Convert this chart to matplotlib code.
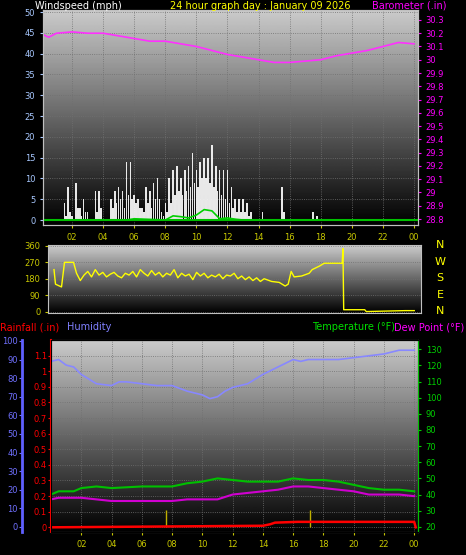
import numpy as np
import matplotlib
matplotlib.use("Agg")
import matplotlib.pyplot as plt

W, H = 466, 555

# ---- data ----
gust_t = np.arange(0, 24, 0.25)
gust = [0, 0, 0, 0, 0, 0, 4, 8, 1, 9, 3, 5, 2, 0, 7, 7,
        0, 0, 5, 7, 8, 7, 14, 14, 6, 5, 3, 8, 7, 9, 10, 2,
        4, 10, 12, 13, 10, 12, 13, 16, 12, 14, 15, 15, 18, 13, 12, 12,
        12, 8, 5, 5, 5, 4, 2, 0, 0, 2, 0, 0, 0, 0, 8, 0,
        0, 0, 0, 0, 0, 0, 2, 1, 0, 0, 0, 0, 0, 0, 0, 0,
        0, 0, 0, 0, 0, 0, 0, 0, 0, 0, 0, 0, 0, 0, 0, 0]
low_gust = [0, 0, 0, 0, 0, 0, 1, 2, 0, 3, 1, 2, 0, 0, 2, 3,
            0, 0, 3, 4, 5, 3, 6, 5, 4, 3, 2, 4, 3, 5, 5, 1,
            2, 4, 6, 7, 6, 7, 8, 9, 8, 10, 10, 9, 8, 7, 6, 5,
            4, 3, 2, 2, 2, 1, 0, 0, 0, 0, 0, 0, 0, 0, 2, 0,
            0, 0, 0, 0, 0, 0, 0, 0, 0, 0, 0, 0, 0, 0, 0, 0,
            0, 0, 0, 0, 0, 0, 0, 0, 0, 0, 0, 0, 0, 0, 0, 0]
avg_t = [0, 5.5, 6, 8, 8.5, 9, 9.5, 10, 10.5, 11, 11.5, 12, 12.5, 13, 24]
avg = [0, 0, 0.3, 0, 1, 0.8, 0.5, 1.2, 2.5, 2.2, 0.3, 0.5, 0.2, 0, 0]

baro_t = [0, 0.3, 0.5, 1, 2, 3, 4, 5, 6, 7, 8, 9, 10, 11, 12, 13, 14, 15,
          16, 17, 18, 19, 20, 21, 22, 23, 24]
baro = [30.20, 30.18, 30.17, 30.20, 30.21, 30.20, 30.20, 30.18, 30.16,
        30.14, 30.14, 30.12, 30.10, 30.07, 30.04, 30.02, 30.00, 29.98,
        29.98, 29.99, 30.00, 30.03, 30.05, 30.07, 30.10, 30.13, 30.12]

dir_t = [0, 0.1, 0.5, 0.7, 1.3, 1.5, 1.75, 2, 2.25, 2.5, 2.75, 3, 3.25,
         3.5, 3.75, 4, 4.25, 4.5, 4.75, 5, 5.25, 5.5, 5.75, 6, 6.25, 6.5,
         6.75, 7, 7.25, 7.5, 7.75, 8, 8.25, 8.5, 8.75, 9, 9.25, 9.5, 9.75,
         10, 10.25, 10.5, 10.75, 11, 11.25, 11.5, 11.75, 12, 12.25, 12.5,
         12.75, 13, 13.25, 13.5, 13.75, 14, 14.5, 15, 15.4, 15.6, 15.8, 16,
         16.5, 17, 17.2, 17.7, 18, 19.2, 19.25, 19.3, 20.7, 20.8, 23.4, 24]
wdir = [230, 150, 135, 270, 270, 210, 170, 200, 220, 190, 230, 200, 215,
        190, 205, 215, 195, 185, 210, 200, 220, 190, 230, 210, 195, 225,
        200, 215, 190, 210, 200, 230, 185, 210, 195, 205, 175, 215, 195,
        210, 185, 200, 190, 205, 180, 200, 195, 210, 180, 195, 175, 190,
        170, 185, 165, 180, 165, 160, 140, 150, 220, 190, 195, 210, 230,
        250, 265, 265, 345, 10, 10, 0, 5, 5]

hum_t = [0, 0.5, 1, 1.5, 2, 3, 4, 4.5, 5, 6, 7, 8, 9, 10, 10.5, 11, 11.5,
         12, 13, 14, 15, 16, 16.5, 17, 18, 19, 20, 21, 22, 23, 24]
hum = [89, 90, 87, 86, 82, 77, 76, 78, 78, 77, 76, 76, 73, 71, 69, 70, 73,
       75, 77, 82, 86, 90, 89, 90, 90, 90, 91, 92, 93, 95, 95]
temp_t = [0, 0.5, 1.5, 2, 3, 4, 6, 8, 9, 10, 11, 12, 13, 14, 15, 16, 17,
          18, 19, 20, 21, 22, 23, 24]
temp = [40, 42, 42, 44, 45, 44, 45, 45, 47, 48, 50, 49, 48, 48, 48, 50, 49,
        49, 48, 46, 44, 43, 43, 42]
dew = [37, 38, 38, 38, 37, 36, 36, 36, 37, 37, 37, 40, 41, 42, 43, 45, 45,
       44, 43, 42, 40, 40, 40, 39]
rain_t = [0, 14.0, 14.5, 14.8, 16.3, 24.0, 24.1]
rain = [0, 0.01, 0.02, 0.03, 0.035, 0.035, 0]
strike_t = [7.6, 17.1]
strike_h = [0.11, 0.11]

hour_ticks = list(range(2, 25, 2))
hour_labels = ["%02d" % (h % 24) for h in hour_ticks]

fig = plt.figure(figsize=(W / 100, H / 100), dpi=100, facecolor="black")


def ax_px(l, t, r, b):
    return fig.add_axes([l / W, 1 - b / H, (r - l) / W, (b - t) / H])


def backdrop(ax, top=0.8):
    grad = np.linspace(0, top, 256)[:, None]
    ax.imshow(grad, cmap="gray", aspect="auto", extent=[0, 1, 0, 1],
              transform=ax.transAxes, zorder=0, vmin=0, vmax=1,
              origin="lower")
    ax.set_facecolor("black")
    for s in ax.spines.values():
        s.set_color("#c0c0c0")


YEL = "#c8c800"
fs = 6

# ---- top panel: wind + barometer ----
ax1 = ax_px(43, 10, 418, 225)
backdrop(ax1)
ax1.set_xlim(0.13, 24.26)
ax1.set_ylim(-1.2, 50.5)
ax1.set_yticks(range(0, 51, 5))
ax1.set_xticks(hour_ticks, hour_labels)
ax1.tick_params(axis="y", colors="#a8c8ff", labelsize=fs, length=2)
ax1.tick_params(axis="x", colors=YEL, labelsize=fs, length=2)
ax1.grid(True, color="#707070", ls=":", lw=0.6)
ax1.bar(gust_t, gust, width=0.1, color="white", alpha=0.9, lw=0, zorder=3)
ax1.bar(np.array(gust_t) + 0.12, low_gust, width=0.1, color="#e8e8e8",
        lw=0, zorder=3)
ax1.plot(avg_t, avg, color="#00d000", lw=1.2, zorder=4)
ax1.axhline(0, color="#00c000", lw=1.5, zorder=4)
axb = ax1.twinx()
axb.set_ylim(28.755, 30.375)
bt = np.round(np.arange(28.8, 30.31, 0.1), 1)
axb.set_yticks(bt, ["%g" % v for v in bt])
axb.tick_params(axis="y", colors="#ff00ff", labelsize=fs, length=2)
axb.plot(baro_t, baro, color="#ff30ff", lw=1.2)
for s in axb.spines.values():
    s.set_color("#c0c0c0")
fig.text(35 / W, 1 - 6 / H, "Windspeed (mph)", color="white", fontsize=7,
         va="center")
fig.text(260 / W, 1 - 6 / H, "24 hour graph day : January 09 2026",
         color="yellow", fontsize=7, va="center", ha="center")
fig.text(372 / W, 1 - 6 / H, "Barometer (.in)", color="#ff00ff", fontsize=7,
         va="center")

# ---- middle panel: wind direction ----
ax2 = ax_px(48, 245, 421, 313)
backdrop(ax2)
ax2.set_xlim(-0.4, 24.45)
ax2.set_ylim(-8, 365)
ax2.set_yticks([0, 90, 180, 270, 360])
ax2.set_xticks([])
ax2.tick_params(axis="y", colors=YEL, labelsize=fs, length=2)
ax2.grid(True, axis="y", color="#707070", ls=":", lw=0.6)
ax2.plot(dir_t, wdir, color="yellow", lw=1)
for i, c in enumerate("NWSEN"):
    fig.text(440 / W, 1 - (245 + i * 16.5) / H, c, color="yellow",
             fontsize=8, ha="center", va="center")

# ---- bottom panel ----
fig.text(0, 1 - 327 / H, "Rainfall (.in)", color="red", fontsize=7,
         va="center")
fig.text(67 / W, 1 - 327 / H, "Humidity", color="#8080ff", fontsize=7,
         va="center")
fig.text(312 / W, 1 - 327 / H, "Temperature (\u00b0F)", color="#00e000",
         fontsize=7, va="center")
fig.text(394 / W, 1 - 327 / H, "Dew Point (\u00b0F)", color="#ff00ff",
         fontsize=7, va="center")

ax3 = ax_px(51, 340, 418, 532)
backdrop(ax3)
ax3.set_xlim(0, 24.25)
ax3.set_ylim(-0.03, 1.2)
rt = np.round(np.arange(0, 1.11, 0.1), 1)
ax3.set_yticks(rt, ["%g" % v for v in rt])
ax3.spines["left"].set_color("red")
ax3.spines["left"].set_linewidth(1.5)
ax3.tick_params(axis="y", colors="red", labelsize=fs, length=2, pad=1)
ax3.set_xticks(hour_ticks, hour_labels)
ax3.tick_params(axis="x", colors=YEL, labelsize=fs, length=2)
ax3.grid(True, color="#707070", ls=":", lw=0.6)
ax3.vlines(strike_t, 0, strike_h, color="#c0b000", lw=1, zorder=3)
ax3.plot(rain_t, rain, color="red", lw=1.8, zorder=4)

axh = ax3.twinx()
axh.spines["left"].set_position(("outward", 21))
axh.spines["left"].set_visible(True)
axh.spines["left"].set_color("#6060ff")
axh.spines["left"].set_linewidth(2)
axh.yaxis.set_ticks_position("left")
axh.set_ylim(-2.7, 100.5)
axh.set_yticks(range(0, 101, 10))
axh.tick_params(axis="y", colors="#7070ff", labelsize=fs, length=2, pad=1)
axh.plot(hum_t, hum, color="#8888ff", lw=1.2)

axt = ax3.twinx()
axt.set_ylim(16.8, 135.7)
axt.set_yticks(range(20, 131, 10))
axt.tick_params(axis="y", colors="#00d000", labelsize=fs, length=2)
axt.spines["right"].set_color("#00c000")
axt.plot(temp_t, temp, color="#00c000", lw=1.5)
axt.plot(temp_t, dew, color="#d000d0", lw=1.5)

fig.savefig("out.png", dpi=100, facecolor="black")
